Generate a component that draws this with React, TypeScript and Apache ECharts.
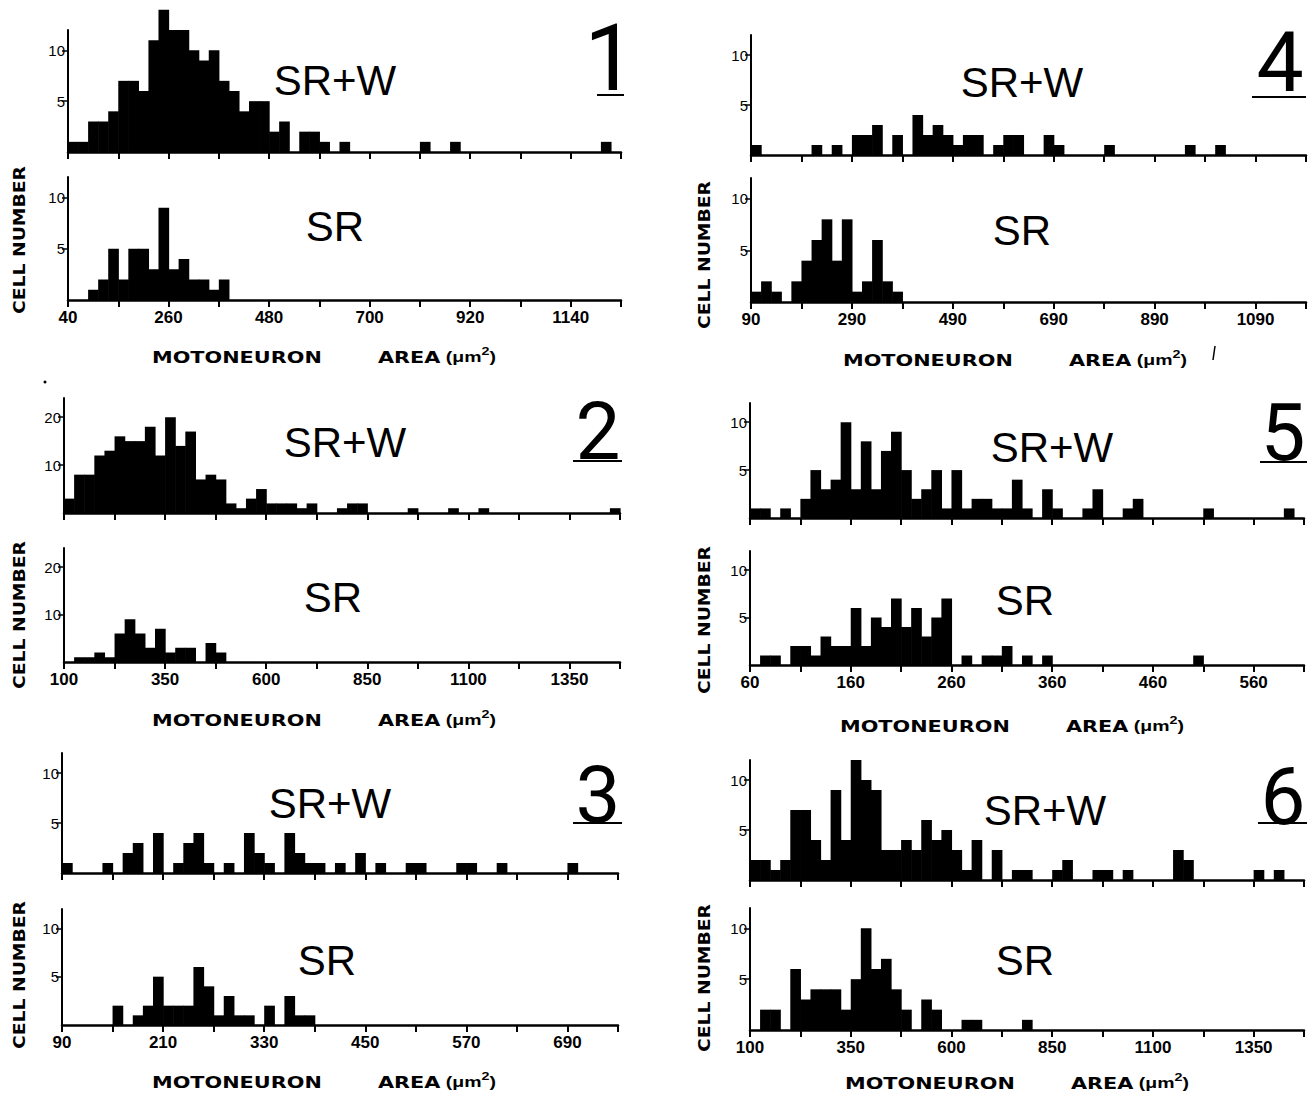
import React, { useEffect, useRef } from "react";
import * as echarts from "echarts";

// ---------- DATA ----------
// Panel 1 (bins of 22 µm², from 40)
const p1Min = 40; const p1Bin = 22; const p1Max = 1250;
const p1Ticks = [40, 150, 260, 370, 480, 590, 700, 810, 920, 1030, 1140, 1250];
const p1Labels = [40, 260, 480, 700, 920, 1140];
const p1SRW = [1,1,3,3,4,7,7,6,11,14, 12,12,10,9,10,7,6,4,5,5, 2,3,0,2,2,1,0,1,0,0, 0,0,0,0,0,1,0,0,1,0, 0,0,0,0,0,0,0,0,0,0, 0,0,0,1,0];
const p1SR = [0,0,1,2,5,2,5,5,3,9, 3,4,2,2,1,2,0,0,0,0, 0,0,0,0,0,0,0,0,0,0, 0,0,0,0,0,0,0,0,0,0, 0,0,0,0,0,0,0,0,0,0, 0,0,0,0,0];

// Panel 2 (bins of 25 µm², from 100)
const p2Min = 100; const p2Bin = 25; const p2Max = 1475;
const p2Ticks = [100, 225, 350, 475, 600, 725, 850, 975, 1100, 1225, 1350, 1475];
const p2Labels = [100, 350, 600, 850, 1100, 1350];
const p2SRW = [3,8,8,12,13,16,15,15,18,12, 20,14,17,7,8,7,2,1,3,5, 2,2,2,1,2,0,0,1,2,2, 0,0,0,0,1,0,0,0,1,0, 0,1,0,0,0,0,0,0,0,0, 0,0,0,0,1];
const p2SR = [0,1,1,2,1,6,9,6,3,7, 2,3,3,0,4,2,0,0,0,0, 0,0,0,0,0,0,0,0,0,0, 0,0,0,0,0,0,0,0,0,0, 0,0,0,0,0,0,0,0,0,0, 0,0,0,0,0];

// Panel 3 (bins of 12 µm², from 90)
const p3Min = 90; const p3Bin = 12; const p3Max = 750;
const p3Ticks = [90, 150, 210, 270, 330, 390, 450, 510, 570, 630, 690, 750];
const p3Labels = [90, 210, 330, 450, 570, 690];
const p3SRW = [1,0,0,0,1,0,2,3,0,4, 0,1,3,4,1,0,1,0,4,2, 1,0,4,2,1,1,0,1,0,2, 0,1,0,0,1,1,0,0,0,1, 1,0,0,1,0,0,0,0,0,0, 1,0,0,0,0];
const p3SR = [0,0,0,0,0,2,0,1,2,5, 2,2,2,6,4,1,3,1,1,0, 2,0,3,1,1,0,0,0,0,0, 0,0,0,0,0,0,0,0,0,0, 0,0,0,0,0,0,0,0,0,0, 0,0,0,0,0];

// Panel 4 (bins of 20 µm², from 90)
const p4Min = 90; const p4Bin = 20; const p4Max = 1190;
const p4Ticks = [90, 190, 290, 390, 490, 590, 690, 790, 890, 990, 1090, 1190];
const p4Labels = [90, 290, 490, 690, 890, 1090];
const p4SRW = [1,0,0,0,0,0,1,0,1,0, 2,2,3,0,2,0,4,2,3,2, 1,2,2,0,1,2,2,0,0,2, 1,0,0,0,0,1,0,0,0,0, 0,0,0,1,0,0,1,0,0,0, 0,0,0,0,0];
const p4SR = [1,2,1,0,2,4,6,8,4,8, 1,2,6,2,1,0,0,0,0,0, 0,0,0,0,0,0,0,0,0,0, 0,0,0,0,0,0,0,0,0,0, 0,0,0,0,0,0,0,0,0,0, 0,0,0,0,0];

// Panel 5 (bins of 10 µm², from 60)
const p5Min = 60; const p5Bin = 10; const p5Max = 610;
const p5Ticks = [60, 110, 160, 210, 260, 310, 360, 410, 460, 510, 560, 610];
const p5Labels = [60, 160, 260, 360, 460, 560];
const p5SRW = [1,1,0,1,0,2,5,3,4,10, 3,8,3,7,9,5,2,3,5,1, 5,1,2,2,1,1,4,1,0,3, 1,0,0,1,3,0,0,1,2,0, 0,0,0,0,0,1,0,0,0,0, 0,0,0,1,0];
const p5SR = [0,1,1,0,2,2,1,3,2,2, 6,2,5,4,7,4,6,3,5,7, 0,1,0,1,1,2,0,1,0,1, 0,0,0,0,0,0,0,0,0,0, 0,0,0,0,1,0,0,0,0,0, 0,0,0,0,0];

// Panel 6 (bins of 25 µm², from 100)
const p6Min = 100; const p6Bin = 25; const p6Max = 1475;
const p6Ticks = [100, 225, 350, 475, 600, 725, 850, 975, 1100, 1225, 1350, 1475];
const p6Labels = [100, 350, 600, 850, 1100, 1350];
const p6SRW = [2,2,1,2,7,7,4,2,9,4, 12,10,9,3,3,4,3,6,4,5, 3,1,4,0,3,0,1,1,0,0, 1,2,0,0,1,1,0,1,0,0, 0,0,3,2,0,0,0,0,0,0, 1,0,1,0,0];
const p6SR = [0,2,2,0,6,3,4,4,4,2, 5,10,6,7,4,2,0,3,2,0, 0,1,1,0,0,0,0,1,0,0, 0,0,0,0,0,0,0,0,0,0, 0,0,0,0,0,0,0,0,0,0, 0,0,0,0,0];

const yTicksSmall = [5, 10];
const yTicksLarge = [10, 20];
const panelNames = ["1", "2", "3", "4", "5", "6"];
const groupTop = "SR+W";
const groupBottom = "SR";
const xTitleMain = "MOTONEURON";
const yTitle = "CELL NUMBER";

// ---------- LAYOUT ----------
const panels = [
  { min: p1Min, bin: p1Bin, max: p1Max, ticks: p1Ticks, labels: p1Labels, srw: p1SRW, sr: p1SR, yMax: 12, yTicks: yTicksSmall },
  { min: p2Min, bin: p2Bin, max: p2Max, ticks: p2Ticks, labels: p2Labels, srw: p2SRW, sr: p2SR, yMax: 24, yTicks: yTicksLarge },
  { min: p3Min, bin: p3Bin, max: p3Max, ticks: p3Ticks, labels: p3Labels, srw: p3SRW, sr: p3SR, yMax: 12, yTicks: yTicksSmall },
  { min: p4Min, bin: p4Bin, max: p4Max, ticks: p4Ticks, labels: p4Labels, srw: p4SRW, sr: p4SR, yMax: 12, yTicks: yTicksSmall },
  { min: p5Min, bin: p5Bin, max: p5Max, ticks: p5Ticks, labels: p5Labels, srw: p5SRW, sr: p5SR, yMax: 12, yTicks: yTicksSmall },
  { min: p6Min, bin: p6Bin, max: p6Max, ticks: p6Ticks, labels: p6Labels, srw: p6SRW, sr: p6SR, yMax: 12, yTicks: yTicksSmall },
];

const layouts = [
  { x0: 68, x1: 621, srw: [30, 152], sr: [177, 300], srwText: [335, 80], srText: [335, 226], num: [610, 58], numSize: 92, ul: [597, 624, 95], title: [152, 357], cell: [20, 240] },
  { x0: 64, x1: 620, srw: [398, 513], sr: [548, 662], srwText: [345, 442], srText: [333, 597], num: [598, 432], numSize: 80, ul: [573, 622, 461], title: [152, 720], cell: [20, 615] },
  { x0: 62, x1: 618, srw: [753, 873], sr: [909, 1025], srwText: [330, 803], srText: [327, 960], num: [598, 795], numSize: 80, ul: [573, 622, 823], title: [152, 1082], cell: [20, 975] },
  { x0: 751, x1: 1306, srw: [35, 155], sr: [178, 302], srwText: [1022, 82], srText: [1022, 230], num: [1280, 62], numSize: 84, ul: [1252, 1306, 97], title: [843, 360], cell: [705, 255] },
  { x0: 750, x1: 1304, srw: [403, 518], sr: [551, 665], srwText: [1052, 447], srText: [1025, 600], num: [1283, 433], numSize: 80, ul: [1260, 1307, 462], title: [840, 726], cell: [705, 620] },
  { x0: 750, x1: 1304, srw: [760, 880], sr: [908, 1030], srwText: [1045, 810], srText: [1025, 960], num: [1283, 797], numSize: 80, ul: [1258, 1307, 823], title: [845, 1083], cell: [705, 978] },
];

function renderItem(_params: any, api: any) {
  const a = api.coord([api.value(0), api.value(2)]);
  const b = api.coord([api.value(1), 0]);
  return {
    type: "rect",
    shape: { x: a[0], y: a[1], width: b[0] - a[0] + 0.6, height: b[1] - a[1] },
    style: { fill: "#000" },
  };
}

function buildOption() {
  const grid: any[] = [];
  const xAxis: any[] = [];
  const yAxis: any[] = [];
  const series: any[] = [];
  const graphic: any[] = [];

  panels.forEach((p, i) => {
    const L = layouts[i];
    const parts: [number[], number[], boolean][] = [
      [L.srw, p.srw, false],
      [L.sr, p.sr, true],
    ];
    parts.forEach(([tb, counts, showLabels]) => {
      const gi = grid.length;
      grid.push({ left: L.x0, top: tb[0], width: L.x1 - L.x0, height: tb[1] - tb[0] });
      xAxis.push({
        type: "value",
        gridIndex: gi,
        min: p.min,
        max: p.max,
        axisLine: { show: true, onZero: false, lineStyle: { color: "#000", width: 2.5 } },
        axisTick: { show: true, customValues: p.ticks, length: 7, lineStyle: { color: "#000", width: 2 } },
        axisLabel: {
          show: showLabels,
          customValues: p.labels,
          formatter: (v: number) => String(v),
          color: "#000",
          fontFamily: "Liberation Sans",
          fontWeight: "bold",
          fontSize: 17,
          margin: 9,
        },
        splitLine: { show: false },
      });
      yAxis.push({
        type: "value",
        gridIndex: gi,
        min: 0,
        max: p.yMax,
        axisLine: { show: true, onZero: false, lineStyle: { color: "#000", width: 2 } },
        axisTick: { show: true, customValues: p.yTicks, length: 6, lineStyle: { color: "#000", width: 1.5 } },
        axisLabel: {
          show: true,
          customValues: p.yTicks,
          formatter: (v: number) => String(v),
          color: "#000",
          fontFamily: "Liberation Sans",
          fontSize: 15,
          margin: 3,
        },
        splitLine: { show: false },
      });
      series.push({
        type: "custom",
        xAxisIndex: gi,
        yAxisIndex: gi,
        clip: false,
        silent: true,
        renderItem,
        encode: { x: [0, 1], y: 2 },
        data: counts
          .map((c, j) => [p.min + j * p.bin, p.min + (j + 1) * p.bin, c])
          .filter((d) => d[2] > 0),
      });
    });

    // group labels
    graphic.push({
      type: "text",
      x: L.srwText[0], y: L.srwText[1],
      style: { text: groupTop, fill: "#000", font: "42px 'Liberation Sans'", textAlign: "center", textVerticalAlign: "middle", verticalAlign: "middle" },
    });
    graphic.push({
      type: "text",
      x: L.srText[0], y: L.srText[1],
      style: { text: groupBottom, fill: "#000", font: "42px 'Liberation Sans'", textAlign: "center", textVerticalAlign: "middle", verticalAlign: "middle" },
    });
    // panel number and underline
    graphic.push({
      type: "text",
      x: L.num[0], y: L.num[1],
      style: { text: panelNames[i], fill: "#000", font: `400 ${L.numSize}px Roboto`, textAlign: "center", textVerticalAlign: "middle", verticalAlign: "middle" },
    });
    graphic.push({
      type: "line",
      shape: { x1: L.ul[0], y1: L.ul[2], x2: L.ul[1], y2: L.ul[2] },
      style: { stroke: "#000", lineWidth: 2 },
    });
    // x title
    graphic.push({
      type: "text",
      x: L.title[0], y: L.title[1],
      scaleX: 1.3,
      style: { text: xTitleMain, fill: "#000", font: "bold 16px 'DejaVu Sans'", textAlign: "left", textVerticalAlign: "middle", verticalAlign: "middle" },
    });
    graphic.push({
      type: "text",
      x: L.title[0] + 226, y: L.title[1],
      scaleX: 1.3,
      style: {
        text: "{a|AREA}{b| (μm}{c|2}{b|)}",
        textAlign: "left", textVerticalAlign: "middle", verticalAlign: "middle",
        rich: {
          a: { font: "bold 16px 'DejaVu Sans'", fill: "#000", lineHeight: 22 },
          b: { font: "bold 15px 'Liberation Sans'", fill: "#000", lineHeight: 22 },
          c: { font: "bold 11px 'Liberation Sans'", fill: "#000", lineHeight: 22, verticalAlign: "top" },
        },
      },
    });
    // y title
    graphic.push({
      type: "text",
      x: L.cell[0], y: L.cell[1],
      rotation: Math.PI / 2,
      scaleX: 1.25,
      style: { text: yTitle, fill: "#000", font: "bold 15px 'DejaVu Sans'", textAlign: "center", textVerticalAlign: "middle", verticalAlign: "middle" },
    });
  });

  // stray marks from the scan
  graphic.push({ type: "circle", shape: { cx: 45, cy: 382, r: 1.5 }, style: { fill: "#000" } });
  graphic.push({ type: "line", shape: { x1: 1215, y1: 346, x2: 1213, y2: 360 }, style: { stroke: "#000", lineWidth: 1.5 } });

  return {
    animation: false,
    backgroundColor: "#fff",
    grid,
    xAxis,
    yAxis,
    series,
    graphic,
  };
}

export default function App() {
  const ref = useRef<HTMLDivElement>(null);
  useEffect(() => {
    if (!ref.current) return;
    const chart = echarts.init(ref.current, undefined, { renderer: "svg" });
    chart.setOption(buildOption() as any);
    return () => chart.dispose();
  }, []);
  return (
    <div
      ref={ref}
      style={{ position: "absolute", left: 0, top: 0, width: 1311, height: 1096, background: "#fff" }}
    />
  );
}
